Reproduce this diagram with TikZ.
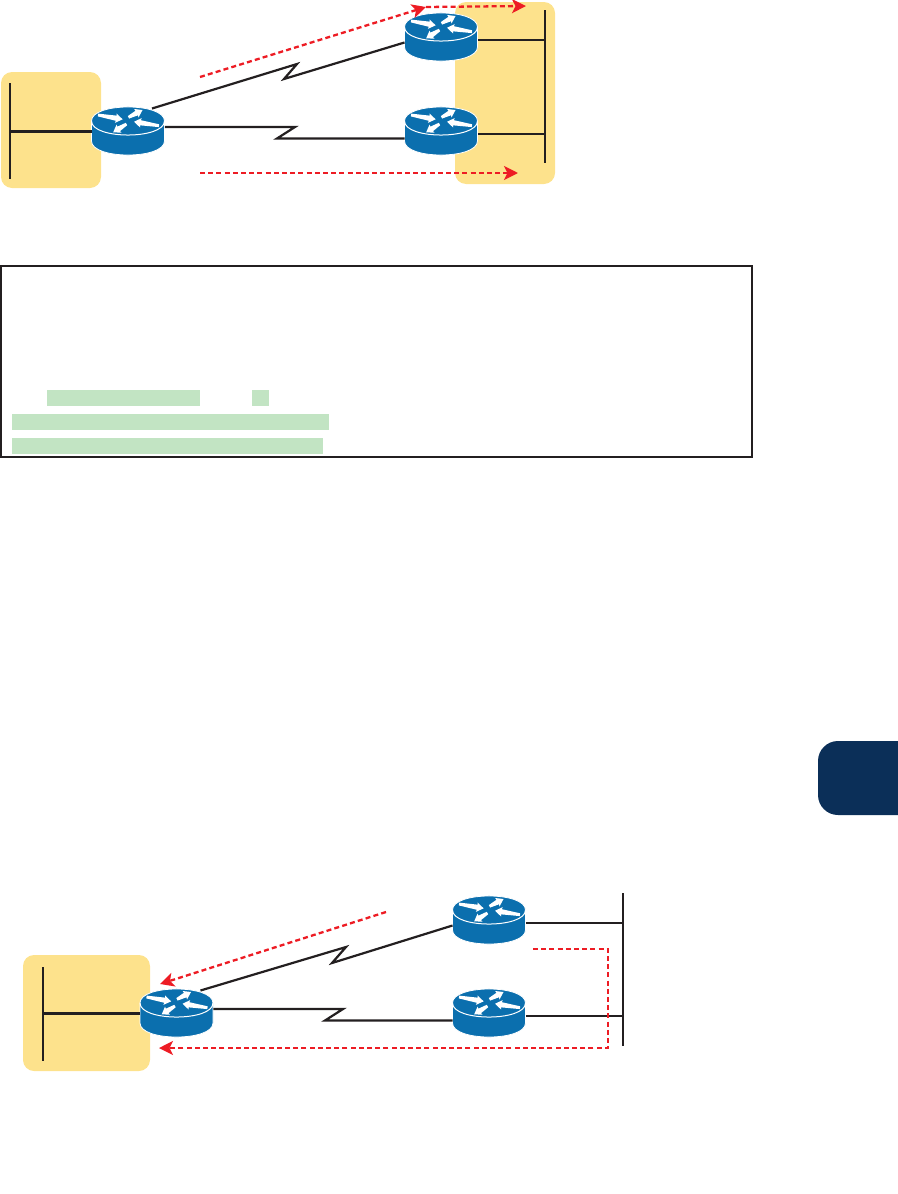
\documentclass[tikz,border=0pt]{standalone}
\usetikzlibrary{arrows.meta}
\definecolor{zoneyellow}{HTML}{FDE28C}
\definecolor{routerblue}{HTML}{0B6FAE}
\definecolor{flowred}{HTML}{ED1C24}
\definecolor{inkblack}{HTML}{231F20}
\definecolor{markgreen}{HTML}{C2E4C3}
\definecolor{tabnavy}{HTML}{0B2F58}
\newcommand{\rtarrow}[3]{\fill[white,shift={(#1)},rotate=#2] (0,-1.4) -- (#3-6.5,-2.6) -- (#3-7,-4.8) -- (#3,0) -- (#3-7,4.8) -- (#3-6.5,2.6) -- (0,1.4) -- cycle;}
\tikzset{
  x=1pt,y=-1pt,
  zone/.style={fill=zoneyellow,rounded corners=11pt},
  wire/.style={draw=inkblack,line width=2.3pt},
  serial/.style={draw=inkblack,line width=2.2pt,line join=miter},
  flow/.style={draw=flowred,line width=2.3pt,dash pattern=on 5pt off 3.2pt,-{Stealth[length=14pt,width=14pt,inset=3.5pt,flowred]}},
  greenbar/.style={fill=markgreen},
  router/.pic={
    \path[draw=white,line width=.8pt,fill=routerblue]
      (-36.5,0) .. controls (-36.5,-18.7) and (36.5,-18.7) .. (36.5,0)
      -- (36.5,20) .. controls (36.5,38.7) and (-36.5,38.7) .. (-36.5,20) -- cycle;
    \draw[white,line width=1pt] (-36.5,0) .. controls (-36.5,18.7) and (36.5,18.7) .. (36.5,0);
    \rtarrow{-30,-6}{-10}{25}
    \rtarrow{0.5,-3.7}{27.5}{15.8}
    \rtarrow{-1.5,3}{212}{15.7}
    \rtarrow{31,4.7}{171}{25.3}
    \node[name=-box,minimum width=73pt,minimum height=49pt,inner sep=0pt] at (0,10.5) {};
    \coordinate (-w) at (-36.5,17.5);
    \coordinate (-wu) at (-36.5,15.5);
    \coordinate (-e) at (36.8,6);
    \coordinate (-ne) at (24,-12.5);
    \coordinate (-wt) at (-36.5,10.5);
    \coordinate (-et) at (36.8,12.8);
  }
}
\begin{document}
\begin{tikzpicture}
\useasboundingbox (0,0) rectangle (897,1194);
% zones
\path[zone] (1,72) rectangle (101,188);
\path[zone] (455,2) rectangle (555,184);
\path[zone] (23,955) rectangle (150,1071);
% tab
\fill[tabnavy,rounded corners=20pt] (818,741) rectangle (920,815);
% output box
\draw[inkblack,line width=2.3pt] (1,266) rectangle (752,457);
\path[greenbar] (47,390) rectangle (200,406);
\path[greenbar] (252,390) rectangle (269,406);
\path[greenbar] (12,414) rectangle (329,430);
\path[greenbar] (12,438) rectangle (323,454);

% upper routers
\pic (r1) at (128,121) {router};
\pic (r2) at (441,27) {router};
\pic (r3) at (441,121) {router};
% upper LAN bars
\coordinate (ltop) at (10,83);
\coordinate (lbot) at (10,179);
\coordinate (rtop) at (545,10);
\coordinate (rbot) at (545,163);
\draw[wire] (ltop) -- (lbot);
\draw[wire] (rtop) -- (rbot);
\draw[wire] (r1-wt) -- (r1-wt -| ltop);
\draw[wire] (r2-et) -- (r2-et -| rtop);
\draw[wire] (r3-et) -- (r3-et -| rtop);
% upper serial links
\coordinate (za) at (297,64);
\coordinate (zb) at (284,79);
\coordinate (zc) at (295,127);
\coordinate (zd) at (277,137);
\draw[serial] (r1-ne) -- (za) -- (zb) -- (r2-wu);
\draw[serial] (r1-e) -- (zc) -- (r3-w -| zd) -- (r3-w);
% upper flows
\coordinate (fa) at (200,77);
\coordinate (fb) at (426,7);
\coordinate (fc) at (526,6);
\coordinate (fd) at (200,173);
\coordinate (fe) at (518,173);
\draw[flow] (fa) -- (fb);
\draw[flow] (fb) -- (fc);
\draw[flow] (fd) -- (fe);

% lower routers
\pic (r4) at (176.5,1003) {router};
\pic (r5) at (489,910) {router};
\pic (r6) at (489,1003) {router};
% lower LAN bars
\coordinate (mtop) at (43,967);
\coordinate (mbot) at (43,1061);
\coordinate (ntop) at (623,893);
\coordinate (nbot) at (623,1046);
\draw[wire] (mtop) -- (mbot);
\draw[wire] (ntop) -- (nbot);
\draw[wire] (r4-wt) -- (r4-wt -| mtop);
\draw[wire] (r5-et) -- (r5-et -| ntop);
\draw[wire] (r6-et) -- (r6-et -| ntop);
% lower serial links
\coordinate (zf) at (346,947);
\coordinate (zg) at (332,963);
\coordinate (zh) at (343,1009);
\coordinate (zi) at (325,1021);
\draw[serial] (r4-ne) -- (zf) -- (zg) -- (r5-wu);
\draw[serial] (r4-e) -- (zh) -- (r6-w -| zi) -- (r6-w);
% lower flows
\coordinate (ga) at (386,912);
\coordinate (gb) at (160,984);
\coordinate (gc) at (533,949);
\coordinate (gd) at (608,949);
\coordinate (ge) at (608,1048);
\coordinate (gf) at (159,1048);
\draw[flow] (ga) -- (gb);
\draw[flow] (gc) -- (gd) -- (ge) -- (gf);
\end{tikzpicture}
\end{document}
